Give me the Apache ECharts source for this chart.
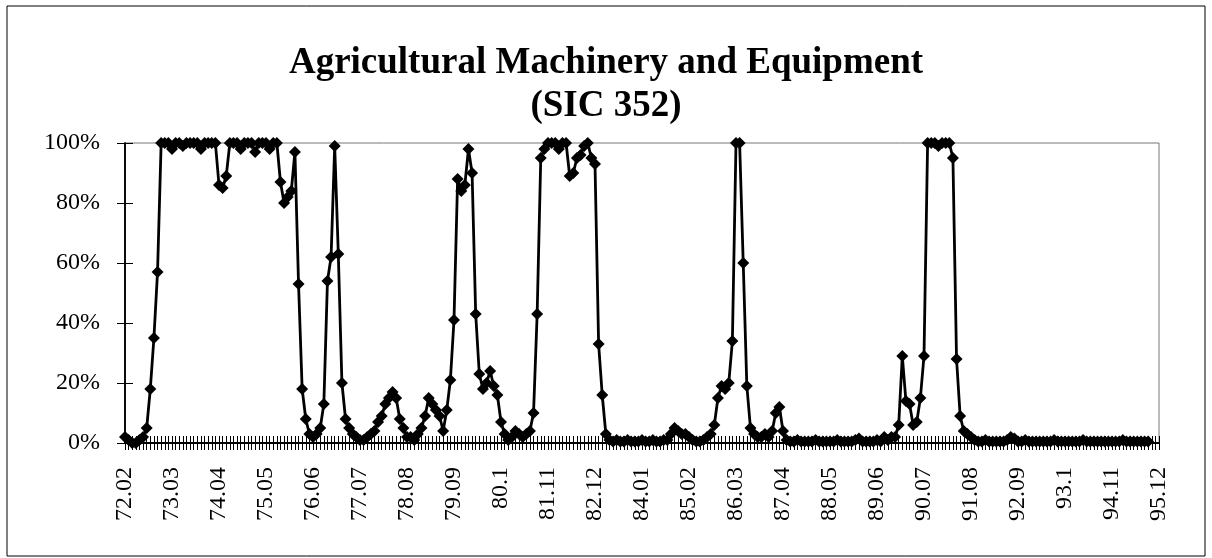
<!DOCTYPE html>
<html>
<head>
<meta charset="utf-8">
<title>Agricultural Machinery and Equipment (SIC 352)</title>
<script src="https://cdn.jsdelivr.net/npm/echarts@6/dist/echarts.min.js"></script>
<style>
  html, body { margin: 0; padding: 0; background: #fff; }
  #chart { width: 1212px; height: 558px; }
</style>
</head>
<body>
<div id="chart"></div>
<script>
// months 72.02 .. 95.12, one point per month
const firstYear = 72;
const firstMonth = 2;
const monthCount = 287;

// share of months (%), 13 values a row
const shareValues = [
  2, 1, 0, 0, 1, 2, 5, 18, 35, 57, 100, 100, 100,
  98, 100, 100, 99, 100, 100, 100, 100, 98, 100, 100, 100, 100,
  86, 85, 89, 100, 100, 100, 98, 100, 100, 100, 97, 100, 100,
  100, 98, 100, 100, 87, 80, 82, 84, 97, 53, 18, 8, 3,
  2, 3, 5, 13, 54, 62, 99, 63, 20, 8, 5, 3, 2,
  1, 1, 2, 3, 4, 7, 9, 13, 15, 17, 15, 8, 5,
  2, 2, 1, 3, 5, 9, 15, 13, 11, 9, 4, 11, 21,
  41, 88, 84, 86, 98, 90, 43, 23, 18, 20, 24, 19, 16,
  7, 3, 1, 2, 4, 3, 2, 3, 4, 10, 43, 95, 98,
  100, 100, 100, 98, 100, 100, 89, 90, 95, 96, 99, 100, 95,
  93, 33, 16, 3, 1, 0.5, 1, 0.5, 0.5, 1, 0.5, 0.5, 0.5,
  1, 0.5, 0.5, 1, 0.5, 0.5, 1, 1, 3, 5, 4, 3, 3,
  2, 1, 0.5, 0.5, 1, 2, 3, 6, 15, 19, 18, 20, 34,
  100, 100, 60, 19, 5, 3, 2, 2, 3, 2, 4, 10, 12,
  4, 1, 0.5, 0.5, 1, 0.5, 0.5, 0.5, 0.5, 1, 0.5, 0.5, 0.5,
  0.5, 0.5, 1, 0.5, 0.5, 0.5, 0.5, 1, 1.5, 0.5, 0.5, 0.5, 0.5,
  1, 0.5, 2, 1, 2, 2, 6, 29, 14, 13, 6, 7, 15,
  29, 100, 100, 100, 99, 100, 100, 100, 95, 28, 9, 4, 3,
  2, 1, 0.5, 0.5, 1, 0.5, 0.5, 0.5, 0.5, 0.5, 1, 2, 1.5,
  0.5, 0.5, 1, 0.5, 0.5, 0.5, 0.5, 0.5, 0.5, 0.5, 1, 0.5, 0.5,
  0.5, 0.5, 0.5, 0.5, 0.5, 1, 0.5, 0.5, 0.5, 0.5, 0.5, 0.5, 0.5,
  0.5, 0.5, 0.5, 1, 0.5, 0.5, 0.5, 0.5, 0.5, 0.5, 0.5
];

const yTicks = [0, 20, 40, 60, 80, 100];

// labels like Excel shows them: 72.02, 80.1, 95.12
const monthLabels = [];
for (let i = 0; i < monthCount; i++) {
  const m = firstMonth - 1 + i;
  const yy = firstYear + Math.floor(m / 12);
  const mm = (m % 12) + 1;
  monthLabels.push(String(Number(yy + "." + (mm < 10 ? "0" + mm : mm))));
}

const serif = "'Liberation Serif', 'DejaVu Serif', serif";
const chart = echarts.init(document.getElementById("chart"));

const xBase = {
  type: "category",
  data: monthLabels,
  boundaryGap: false,
  position: "bottom",
  axisLine: { show: true, lineStyle: { color: "#000", width: 2 } },
  splitLine: { show: false },
};
const yBase = {
  type: "value",
  min: yTicks[0],
  max: yTicks[yTicks.length - 1],
  interval: 20,
  position: "left",
  splitLine: { show: false },
  axisLine: { show: true, lineStyle: { color: "#000", width: 1.5 } },
};

chart.setOption({
  animation: false,
  backgroundColor: "#fff",
  title: {
    text: "Agricultural Machinery and Equipment\n(SIC 352)",
    left: "center",
    top: 37,
    textStyle: {
      fontFamily: serif,
      fontWeight: "bold",
      fontSize: 37,
      lineHeight: 43,
      color: "#000",
    },
  },
  graphic: [
    {
      type: "rect",
      shape: { x: 7, y: 6, width: 1198, height: 550 },
      style: { fill: "none", stroke: "#000", lineWidth: 1 },
      silent: true,
    },
  ],
  grid: {
    left: 125,
    right: 53,
    top: 143,
    bottom: 115,
    show: true,
    backgroundColor: "transparent",
    borderColor: "#777",
    borderWidth: 1,
  },
  xAxis: [
    Object.assign({}, xBase, {
      axisTick: {
        show: true,
        interval: 0,
        length: 7,
        lineStyle: { color: "#000", width: 1 },
      },
      axisLabel: {
        interval: 12,
        rotate: 90,
        margin: 24,
        fontFamily: serif,
        fontSize: 24,
        color: "#000",
      },
    }),
    Object.assign({}, xBase, {
      axisTick: {
        show: true,
        inside: true,
        interval: 0,
        length: 7,
        lineStyle: { color: "#000", width: 1 },
      },
      axisLabel: { show: false },
    }),
  ],
  yAxis: [
    Object.assign({}, yBase, {
      axisTick: { show: true, length: 8, lineStyle: { color: "#000" } },
      axisLabel: {
        margin: 25,
        fontFamily: serif,
        fontSize: 24,
        color: "#000",
        formatter: "{value}%",
      },
    }),
    Object.assign({}, yBase, {
      axisTick: { show: true, inside: true, length: 8, lineStyle: { color: "#000" } },
      axisLabel: { show: false },
    }),
  ],
  series: [
    {
      name: "SIC 352",
      type: "line",
      data: shareValues,
      symbol: "diamond",
      symbolSize: 12,
      showAllSymbol: true,
      itemStyle: { color: "#000" },
      lineStyle: { color: "#000", width: 2.8 },
    },
  ],
});
</script>
</body>
</html>
